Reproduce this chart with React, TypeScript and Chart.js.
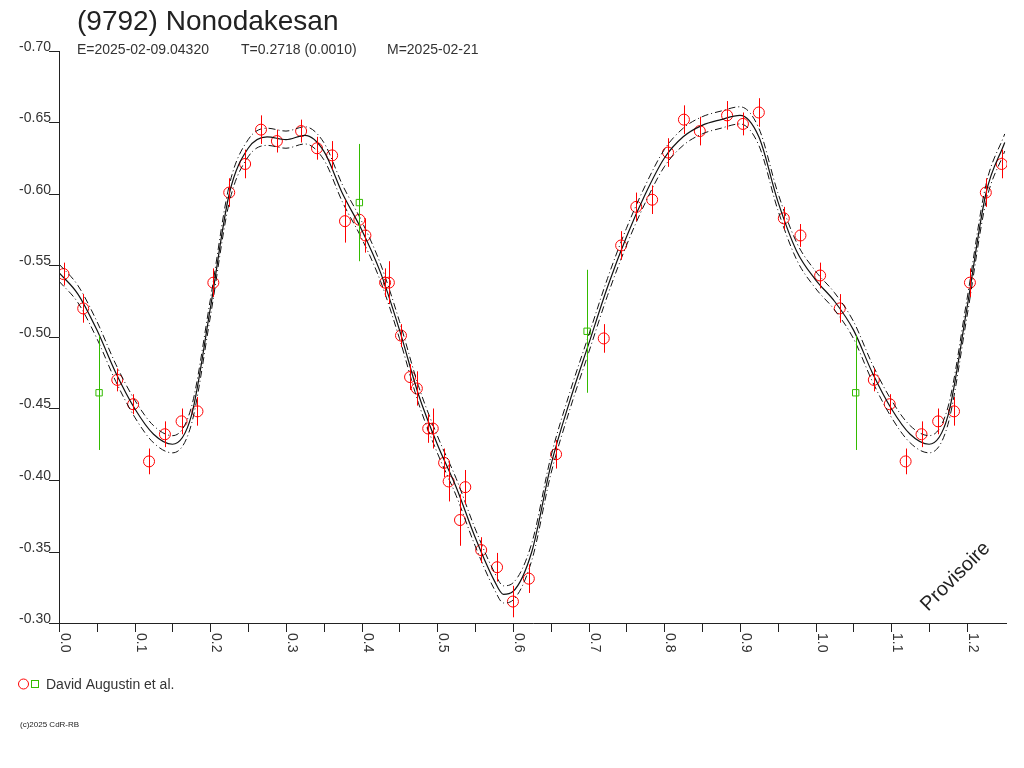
import React, { useEffect, useRef } from "react";
import { Chart, registerables } from "chart.js";
Chart.register(...registerables);

const redPhase = [0.006,0.032,0.077,0.098,0.119,0.140,0.162,0.183,0.204,0.225,0.246,0.267,0.288,0.320,0.341,0.361,0.378,0.397,0.405,0.431,0.436,0.452,0.464,0.473,0.488,0.494,0.509,0.515,0.537,0.530,0.558,0.579,0.600,0.621,0.657,0.720,0.743,0.763,0.784,0.805,0.826,0.847,0.883,0.904,0.925,0.958,0.980,1.006,1.032,1.077,1.098,1.119,1.140,1.162,1.183,1.204,1.225,1.246];
const redMag = [-0.544,-0.520,-0.470,-0.453,-0.413,-0.432,-0.441,-0.448,-0.538,-0.601,-0.621,-0.645,-0.637,-0.644,-0.632,-0.627,-0.581,-0.582,-0.571,-0.538,-0.538,-0.501,-0.472,-0.464,-0.436,-0.436,-0.412,-0.399,-0.395,-0.372,-0.351,-0.339,-0.315,-0.331,-0.418,-0.499,-0.564,-0.591,-0.596,-0.629,-0.652,-0.644,-0.655,-0.649,-0.657,-0.583,-0.571,-0.543,-0.520,-0.470,-0.453,-0.413,-0.432,-0.441,-0.448,-0.538,-0.601,-0.621];
const redErr = [0.008,0.010,0.008,0.007,0.009,0.009,0.009,0.010,0.010,0.010,0.010,0.010,0.008,0.008,0.008,0.010,0.015,0.008,0.012,0.010,0.015,0.008,0.009,0.012,0.010,0.014,0.010,0.014,0.012,0.018,0.009,0.010,0.011,0.010,0.010,0.010,0.010,0.010,0.010,0.010,0.010,0.010,0.010,0.008,0.010,0.008,0.008,0.009,0.010,0.008,0.007,0.009,0.009,0.009,0.010,0.010,0.010,0.010];
const greenPhase = [0.053,0.397,0.698,1.053];
const greenMag = [-0.461,-0.594,-0.504,-0.461];
const greenErr = [0.040,0.041,0.043,0.040];
const fitPhase = [0,0.025,0.05,0.075,0.1,0.125,0.15,0.175,0.2,0.225,0.25,0.275,0.3,0.325,0.35,0.375,0.4,0.425,0.45,0.475,0.5,0.525,0.55,0.575,0.5875,0.6,0.625,0.65,0.675,0.7,0.725,0.75,0.775,0.8,0.825,0.85,0.875,0.9,0.925,0.95,0.975,1.0,1.025,1.05,1.075,1.1,1.125,1.15,1.175,1.2,1.225,1.25];
const fitMag = [-0.545,-0.53,-0.505,-0.475,-0.45,-0.432,-0.425,-0.445,-0.52,-0.6,-0.632,-0.64,-0.638,-0.641,-0.63,-0.6,-0.575,-0.545,-0.505,-0.46,-0.425,-0.395,-0.36,-0.33,-0.32,-0.322,-0.35,-0.41,-0.455,-0.495,-0.535,-0.57,-0.6,-0.625,-0.64,-0.648,-0.652,-0.655,-0.64,-0.595,-0.56,-0.54,-0.525,-0.505,-0.475,-0.45,-0.432,-0.425,-0.445,-0.52,-0.6,-0.636];
const band = 0.006;
const yTicks = [-0.70,-0.65,-0.60,-0.55,-0.50,-0.45,-0.40,-0.35,-0.30];
const xTicks = [0,0.1,0.2,0.3,0.4,0.5,0.6,0.7,0.8,0.9,1.0,1.1,1.2];

const F = "'Liberation Sans', Arial, sans-serif";

export default function App() {
  const ref = useRef<HTMLCanvasElement>(null);
  useEffect(() => {
    const pts = (xs: number[], ys: number[]) => xs.map((x, i) => ({ x, y: ys[i] }));
    const deco = {
      id: "deco",
      afterDatasetsDraw(chart: any) {
        const { ctx, chartArea: a, scales } = chart;
        const xs = scales.x, ys = scales.y;
        ctx.save();
        ctx.setLineDash([]);
        const bars = (xa: number[], ya: number[], ea: number[], col: string) => {
          ctx.strokeStyle = col; ctx.lineWidth = 1;
          xa.forEach((x, i) => {
            const px = Math.round(xs.getPixelForValue(x)) + 0.5;
            ctx.beginPath();
            ctx.moveTo(px, ys.getPixelForValue(ya[i] - ea[i]));
            ctx.lineTo(px, ys.getPixelForValue(ya[i] + ea[i]));
            ctx.stroke();
          });
        };
        bars(redPhase, redMag, redErr, "#ff0000");
        bars(greenPhase, greenMag, greenErr, "#33bb00");
        ctx.strokeStyle = "#222"; ctx.lineWidth = 1;
        ctx.beginPath();
        ctx.moveTo(a.left + 0.5, a.top); ctx.lineTo(a.left + 0.5, a.bottom + 0.5);
        ctx.lineTo(a.right, a.bottom + 0.5);
        ctx.stroke();
        ctx.fillStyle = "#333";
        ctx.font = "14px " + F;
        ctx.textAlign = "right"; ctx.textBaseline = "bottom";
        yTicks.forEach((t) => {
          const py = Math.round(ys.getPixelForValue(t)) + 0.5;
          ctx.beginPath(); ctx.moveTo(a.left - 10, py); ctx.lineTo(a.left, py); ctx.stroke();
          ctx.fillText(t.toFixed(2), a.left - 8, py + 3);
        });
        for (let v = 0; v <= 1.25; v += 0.05) {
          const px = Math.round(xs.getPixelForValue(v)) + 0.5;
          ctx.beginPath(); ctx.moveTo(px, a.bottom); ctx.lineTo(px, a.bottom + 9); ctx.stroke();
        }
        xTicks.forEach((t) => {
          const px = Math.round(xs.getPixelForValue(t));
          ctx.save();
          ctx.translate(px, a.bottom + 10);
          ctx.rotate(Math.PI / 2);
          ctx.textAlign = "left"; ctx.textBaseline = "middle";
          ctx.fillText(t.toFixed(1), 0, -6);
          ctx.restore();
        });
        ctx.textAlign = "left"; ctx.textBaseline = "alphabetic";
        ctx.font = "28px " + F; ctx.fillStyle = "#222";
        ctx.fillText("(9792) Nonodakesan", 77, 30);
        ctx.font = "14px " + F; ctx.fillStyle = "#333";
        ctx.fillText("E=2025-02-09.04320", 77, 54);
        ctx.fillText("T=0.2718 (0.0010)", 241, 54);
        ctx.fillText("M=2025-02-21", 387, 54);
        ctx.fillText("David Augustin et al.", 46, 689);
        ctx.strokeStyle = "#ff0000";
        ctx.beginPath(); ctx.arc(23.5, 684, 5, 0, Math.PI * 2); ctx.stroke();
        ctx.strokeStyle = "#33bb00"; ctx.strokeRect(31.5, 680.5, 7, 7);
        ctx.font = "8px " + F; ctx.fillStyle = "#222";
        ctx.fillText("(c)2025 CdR-RB", 20, 727);
        ctx.save();
        ctx.translate(928, 612); ctx.rotate(-Math.PI / 4);
        ctx.font = "20px " + F; ctx.fillStyle = "#222";
        ctx.fillText("Provisoire", 0, 0);
        ctx.restore();
        ctx.restore();
      },
    };
    const ch = new Chart(ref.current!, {
      type: "scatter",
      data: {
        datasets: [
          { type: "line", data: pts(fitPhase, fitMag), borderColor: "#111", borderWidth: 1.2, pointRadius: 0, cubicInterpolationMode: "monotone" } as any,
          { type: "line", data: pts(fitPhase, fitMag.map((v) => v - band)), borderColor: "#111", borderWidth: 1, borderDash: [7, 3, 1, 3], pointRadius: 0, cubicInterpolationMode: "monotone" } as any,
          { type: "line", data: pts(fitPhase, fitMag.map((v) => v + band)), borderColor: "#111", borderWidth: 1, borderDash: [7, 3, 1, 3], pointRadius: 0, cubicInterpolationMode: "monotone" } as any,
          { data: pts(redPhase, redMag), pointStyle: "circle", pointRadius: 5.5, borderColor: "#ff0000", backgroundColor: "rgba(0,0,0,0)", borderWidth: 1 },
          { data: pts(greenPhase, greenMag), pointStyle: "rect", pointRadius: 4.5, borderColor: "#33bb00", backgroundColor: "rgba(0,0,0,0)", borderWidth: 1 },
        ],
      },
      options: {
        animation: false,
        responsive: false,
        layout: { padding: { left: 59, right: 17, top: 51, bottom: 145 } },
        plugins: { legend: { display: false }, tooltip: { enabled: false } },
        scales: {
          x: { type: "linear", min: 0, max: 1.253, display: false },
          y: { min: -0.7, max: -0.3, reverse: true, display: false },
        },
      },
      plugins: [deco],
    });
    return () => ch.destroy();
  }, []);
  return (
    <div style={{ position: "fixed", left: 0, top: 0, width: 1024, height: 768, background: "#fff" }}>
      <canvas ref={ref} width={1024} height={768} />
    </div>
  );
}
